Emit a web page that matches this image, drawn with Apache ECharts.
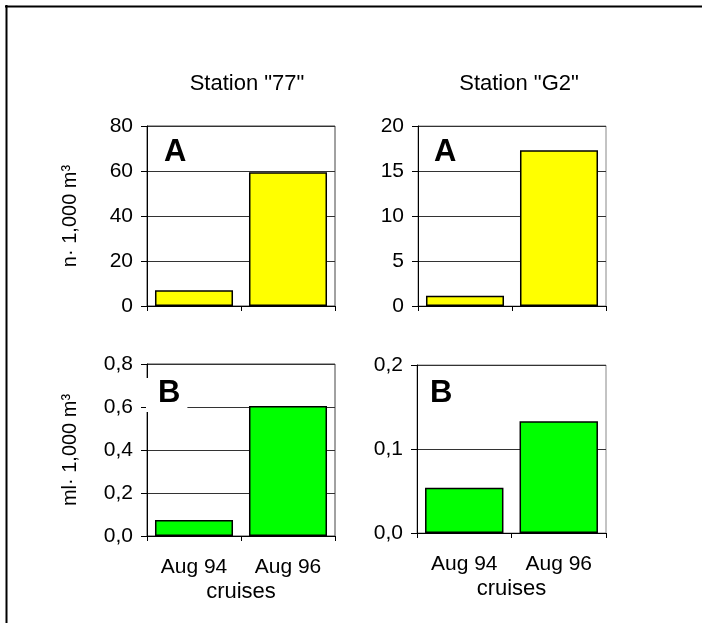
<!DOCTYPE html>
<html>
<head>
<meta charset="utf-8">
<script src="https://cdn.jsdelivr.net/npm/echarts@6/dist/echarts.min.js"></script>
<style>
html,body{margin:0;padding:0;background:#fff;}
#c{width:702px;height:623px;}
</style>
</head>
<body>
<div id="c"></div>
<script>
const categories = ['Aug 94', 'Aug 96'];
const stationTitles = ['Station "77"', 'Station "G2"'];
const st77Count = [7.0, 59.5];
const g2Count = [1.15, 17.3];
const st77Vol = [0.074, 0.605];
const g2Vol = [0.054, 0.133];
const panelLetters = ['A', 'A', 'B', 'B'];
const yNameTop = 'n· 1,000 m³';
const yNameBottom = 'ml· 1,000 m³';
const xName = 'cruises';

const FONT = '"Liberation Sans", Arial, sans-serif';
const chart = echarts.init(document.getElementById('c'), null, {renderer: 'canvas'});

const grids = [
  {left: 147, top: 126, width: 188, height: 180},
  {left: 418, top: 126, width: 188, height: 180},
  {left: 147, top: 364, width: 188, height: 172},
  {left: 417, top: 365, width: 189, height: 168}
];
const yCfg = [
  {min: 0, max: 80, interval: 20, dec: 0, name: yNameTop},
  {min: 0, max: 20, interval: 5, dec: 0, name: ''},
  {min: 0, max: 0.8, interval: 0.2, dec: 1, name: yNameBottom},
  {min: 0, max: 0.2, interval: 0.1, dec: 1, name: ''}
];
const seriesData = [st77Count, g2Count, st77Vol, g2Vol];
const colors = ['#FFFF00', '#FFFF00', '#00FF00', '#00FF00'];

const option = {
  animation: false,
  backgroundColor: '#fff',
  title: [
    {text: stationTitles[0], left: 242, top: 68, textAlign: 'center',
     textStyle: {fontFamily: FONT, fontSize: 22, fontWeight: 'normal', color: '#000'}},
    {text: stationTitles[1], left: 514, top: 68, textAlign: 'center',
     textStyle: {fontFamily: FONT, fontSize: 22, fontWeight: 'normal', color: '#000'}}
  ],
  grid: grids.map((g, i) => Object.assign({
    show: true, borderColor: i % 2 === 1 ? '#888' : '#444', borderWidth: 1, backgroundColor: 'transparent'
  }, g)),
  xAxis: grids.map((g, i) => ({
    type: 'category', gridIndex: i, data: categories,
    axisLine: {show: true, lineStyle: {color: '#000', width: 1}},
    axisTick: {show: true, alignWithLabel: false, length: 5, lineStyle: {color: '#000'}},
    axisLabel: {show: i >= 2, margin: 21, fontFamily: FONT, fontSize: 21, color: '#000'},
    name: i >= 2 ? xName : '', nameLocation: 'middle', nameGap: 45,
    nameTextStyle: {fontFamily: FONT, fontSize: 22, color: '#000'}
  })),
  yAxis: yCfg.map((c, i) => ({
    type: 'value', gridIndex: i, min: c.min, max: c.max, interval: c.interval,
    axisLine: {show: true, lineStyle: {color: '#000', width: 1}},
    axisTick: {show: true, length: 6, lineStyle: {color: '#000'}},
    splitLine: {show: true, lineStyle: {color: '#333', width: 1}},
    axisLabel: {margin: 14, fontFamily: FONT, fontSize: 21, color: '#000',
      formatter: v => c.dec ? v.toFixed(c.dec).replace('.', ',') : String(Math.round(v))},
    name: c.name, nameLocation: 'middle', nameGap: 67, nameRotate: 90,
    nameTextStyle: {fontFamily: FONT, fontSize: 20, color: '#000'}
  })),
  series: seriesData.map((d, i) => ({
    type: 'bar', xAxisIndex: i, yAxisIndex: i, data: d,
    barCategoryGap: '17%',
    itemStyle: {color: colors[i], borderColor: '#000', borderWidth: 1.5},
    z: 3
  })),
  graphic: [
    {type: 'line', shape: {x1: 5, y1: 6.5, x2: 702, y2: 6.5}, style: {stroke: '#000', lineWidth: 2}},
    {type: 'line', shape: {x1: 6.5, y1: 5, x2: 6.5, y2: 623}, style: {stroke: '#000', lineWidth: 2}},
    ...grids.map((g, i) => ({
      type: 'text', z: 100,
      left: [164, 434, 158, 430][i] - [0, 0, 12, 0][i],
      top: [137, 137, 378, 378][i],
      style: {text: panelLetters[i], fontFamily: FONT, fontSize: 31, fontWeight: 'bold', fill: '#000',
        backgroundColor: i === 2 ? '#fff' : null,
        padding: i === 2 ? [0, 7, 3, 12] : 0}
    }))
  ]
};
chart.setOption(option);
</script>
</body>
</html>
